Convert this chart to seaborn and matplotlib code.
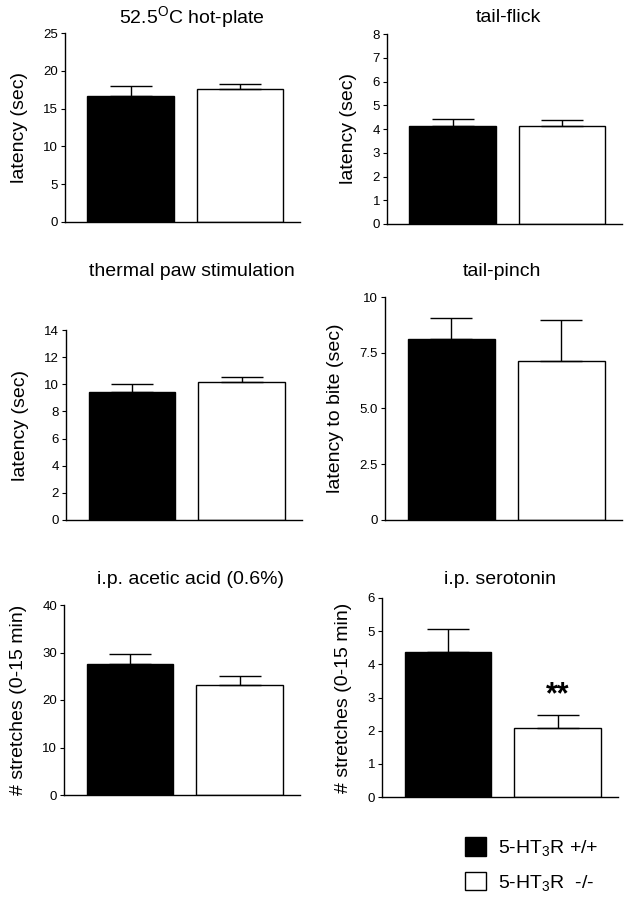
import numpy as np
import pandas as pd
import matplotlib
matplotlib.use("Agg")
import matplotlib.pyplot as plt
import seaborn as sns
from matplotlib.patches import Patch

sns.set_style("ticks")
plt.rcParams['font.family'] = ['Liberation Sans', 'DejaVu Sans']
plt.rcParams['mathtext.default'] = 'regular'
plt.rcParams['text.color'] = 'black'
plt.rcParams['axes.labelcolor'] = 'black'
plt.rcParams['xtick.color'] = 'black'
plt.rcParams['ytick.color'] = 'black'

# ---- data ----
genotypes = ['5-HT$_3$R +/+', '5-HT$_3$R  -/-']
colors = ['black', 'white']

hotplate_mean = [16.7, 17.6]
hotplate_sem = [1.3, 0.7]
tailflick_mean = [4.13, 4.12]
tailflick_sem = [0.30, 0.25]
thermal_mean = [9.45, 10.15]
thermal_sem = [0.55, 0.42]
tailpinch_mean = [8.12, 7.12]
tailpinch_sem = [0.93, 1.83]
acetic_mean = [27.5, 23.2]
acetic_sem = [2.15, 1.75]
serotonin_mean = [4.36, 2.08]
serotonin_sem = [0.70, 0.38]

titles = ['52.5$^{O}$C hot-plate', 'tail-flick', 'thermal paw stimulation',
          'tail-pinch', 'i.p. acetic acid (0.6%)', 'i.p. serotonin']
ylabels = ['latency (sec)', 'latency (sec)', 'latency (sec)',
           'latency to bite (sec)', '# stretches (0-15 min)', '# stretches (0-15 min)']
yticks = [[0, 5, 10, 15, 20, 25], [0, 1, 2, 3, 4, 5, 6, 7, 8],
          [0, 2, 4, 6, 8, 10, 12, 14], [0, 2.5, 5.0, 7.5, 10],
          [0, 10, 20, 30, 40], [0, 1, 2, 3, 4, 5, 6]]
yticklabels = [None, None, None, ['0', '2.5', '5.0', '7.5', '10'], None, None]
means = [hotplate_mean, tailflick_mean, thermal_mean, tailpinch_mean, acetic_mean, serotonin_mean]
sems = [hotplate_sem, tailflick_sem, thermal_sem, tailpinch_sem, acetic_sem, serotonin_sem]
signif = ['', '', '', '', '', '**']

W, H = 633, 899
fig = plt.figure(figsize=(W / 100, H / 100), dpi=100)

# axes boxes in pixels: left, right, top, bottom
boxes = [(65, 300, 33, 222), (387, 622, 34, 224),
         (66, 302, 330, 520), (385, 622, 297, 520),
         (64, 300, 605, 795), (382, 618, 598, 797)]
title_pos = [(192, 17), (508, 17), (192, 271), (502, 272), (190, 580), (500, 580)]

for i in range(6):
    l, r, t, b = boxes[i]
    ax = fig.add_axes([l / W, 1 - b / H, (r - l) / W, (b - t) / H])
    df = pd.DataFrame({'genotype': genotypes, 'value': means[i]})
    sns.barplot(data=df, x='genotype', y='value', hue='genotype', palette=colors,
                edgecolor='black', linewidth=1.0, width=0.79, errorbar=None,
                legend=False, ax=ax)
    ax.errorbar(x=[0, 1], y=means[i], yerr=[[0, 0], sems[i]], fmt='none',
                ecolor='black', elinewidth=1.0, capsize=15, capthick=1.0, zorder=1)
    ax.set_xlim(-0.6, 1.55)
    ax.set_ylim(0, yticks[i][-1])
    ax.set_yticks(yticks[i])
    if yticklabels[i] is not None:
        ax.set_yticklabels(yticklabels[i])
    ax.tick_params(axis='y', labelsize=9.5, length=3, width=0.8, direction='out', pad=2)
    ax.tick_params(axis='x', bottom=False, labelbottom=False)
    ax.set_xlabel('')
    ax.set_ylabel(ylabels[i], fontsize=14, labelpad=11)
    for s in ['top', 'right']:
        ax.spines[s].set_visible(False)
    for s in ['left', 'bottom']:
        ax.spines[s].set_linewidth(1.0)
        ax.spines[s].set_color('black')
    tx, ty = title_pos[i]
    fig.text(tx / W, 1 - ty / H, titles[i], fontsize=14, ha='center', va='center')
    if signif[i]:
        ax.annotate(signif[i], xy=(1, means[i][1] + sems[i][1]), xytext=(0, 4),
                    textcoords='offset points', ha='center', va='bottom',
                    fontsize=22, fontweight='bold')

handles = [Patch(facecolor='black', edgecolor='black', linewidth=1.0),
           Patch(facecolor='white', edgecolor='black', linewidth=1.0)]
fig.legend(handles, genotypes, loc='center left',
           bbox_to_anchor=(447 / W, 1 - 865 / H), frameon=False, fontsize=14,
           handlelength=1.1, handleheight=1.1, handletextpad=0.6, labelspacing=0.7)

fig.savefig('out.png', dpi=100, facecolor='white')
